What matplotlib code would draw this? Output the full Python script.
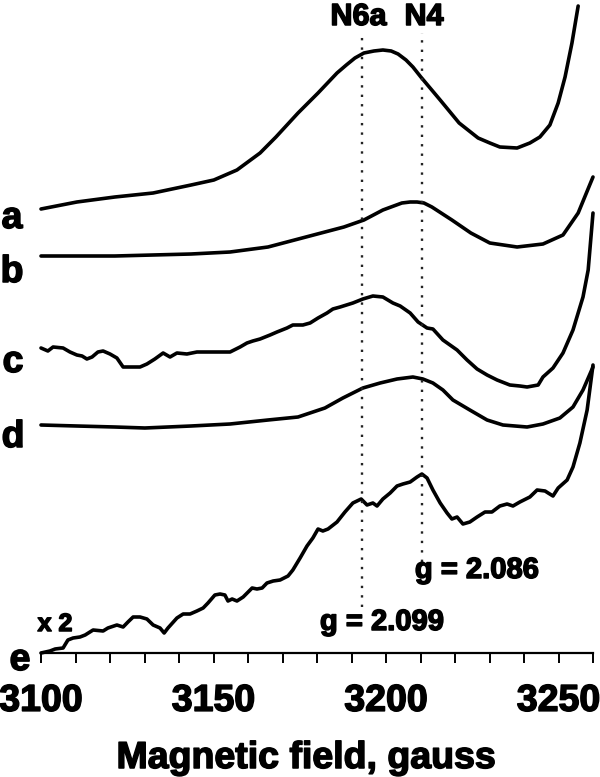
import matplotlib
matplotlib.use("Agg")
import matplotlib.pyplot as plt
import matplotlib.patheffects as pe
from matplotlib.ticker import MultipleLocator

plt.rcParams['font.family'] = ['Liberation Sans', 'DejaVu Sans']
plt.rcParams['font.weight'] = 'bold'

# Magnetic field (gauss) and stacked signal heights (arbitrary units, offset included)
field_a = [3100.0, 3110.4, 3121.4, 3132.5, 3143.5, 3150.1, 3156.8, 3163.5, 3168.1, 3174.5, 3180.3,
           3185.8, 3188.5, 3191.0, 3193.6, 3196.5, 3199.1, 3201.5, 3203.5, 3205.8, 3207.8, 3210.1,
           3215.7, 3221.2, 3226.7, 3230.1, 3233.0, 3238.0, 3241.7, 3244.6, 3247.5, 3249.9, 3251.9,
           3253.9, 3255.7]
sig_a = [444, 451, 456, 460, 468, 473, 483, 500, 516, 540, 560,
         580, 588, 595, 600, 602, 603, 602, 599, 593, 586, 576,
         553, 530, 515, 510, 506, 505, 510, 516, 528, 550, 576,
         610, 647]

field_b = [3100.0, 3121.4, 3143.5, 3154.8, 3165.8, 3176.8, 3187.8, 3193.6, 3199.1, 3204.6, 3207.0,
           3209.0, 3211.0, 3213.3, 3219.1, 3224.6, 3230.1, 3238.0, 3245.5, 3251.3, 3255.7, 3258.8,
           3260.0]
sig_b = [397, 397, 399, 401, 406, 416, 426, 433, 443, 450, 451,
         451, 450, 446, 433, 420, 410, 406, 409, 418, 440, 466,
         476]

field_c = [3100.0, 3102.0, 3103.5, 3106.4, 3108.4, 3110.4, 3111.9, 3113.3, 3114.8, 3116.5, 3118.0,
           3120.0, 3122.0, 3123.8, 3125.8, 3128.7, 3130.7, 3133.0, 3135.4, 3137.4, 3139.4, 3142.3,
           3145.2, 3148.1, 3151.9, 3154.8, 3157.7, 3159.7, 3161.4, 3163.5, 3166.4, 3168.4, 3171.3,
           3173.0, 3175.9, 3178.0, 3180.3, 3182.9, 3184.6, 3186.7, 3190.4, 3193.3, 3196.2, 3199.1,
           3202.0, 3204.1, 3207.0, 3209.3, 3211.9, 3213.6, 3216.5, 3220.6, 3223.5, 3226.4, 3229.3,
           3232.2, 3235.9, 3238.8, 3240.9, 3244.1, 3245.5, 3248.4, 3251.3, 3254.2, 3257.1, 3258.6,
           3260.0]
sig_c = [305, 302, 306, 305, 301, 298, 297, 294, 296, 301, 302,
         299, 295, 286, 286, 286, 289, 294, 300, 296, 300, 299,
         301, 301, 301, 301, 306, 310, 312, 314, 318, 321, 325,
         328, 328, 330, 335, 340, 344, 346, 350, 354, 357, 356,
         350, 347, 340, 331, 325, 324, 313, 303, 293, 284, 278,
         273, 268, 267, 266, 268, 276, 285, 300, 323, 356, 383,
         440]

field_d = [3100.0, 3110.4, 3121.4, 3130.1, 3143.5, 3154.8, 3165.8, 3174.5, 3182.3, 3187.5, 3193.3,
           3198.3, 3203.2, 3207.8, 3210.7, 3213.6, 3216.5, 3219.4, 3224.3, 3229.3, 3233.9, 3240.9,
           3245.5, 3250.4, 3254.2, 3257.1, 3260.0]
sig_d = [228, 227, 226, 225, 227, 229, 233, 236, 245, 255, 265,
         270, 274, 276, 274, 270, 263, 253, 243, 233, 228, 226,
         229, 235, 246, 263, 286]

field_e = [3100.0, 3102.6, 3104.1, 3106.4, 3107.8, 3109.3, 3111.3, 3112.8, 3115.1, 3118.0, 3119.4,
           3122.0, 3123.8, 3125.2, 3126.7, 3128.7, 3130.7, 3132.5, 3134.5, 3135.7, 3136.8, 3139.4,
           3141.2, 3143.2, 3145.2, 3147.0, 3148.4, 3150.4, 3151.9, 3153.3, 3154.2, 3155.4, 3156.8,
           3158.6, 3161.2, 3162.6, 3164.1, 3165.5, 3167.3, 3169.3, 3171.6, 3173.0, 3175.1, 3177.1,
           3178.8, 3180.3, 3181.7, 3183.2, 3185.8, 3188.1, 3190.4, 3192.8, 3194.5, 3196.2, 3197.4,
           3199.1, 3201.2, 3203.2, 3204.9, 3207.0, 3209.0, 3210.4, 3211.9, 3213.6, 3215.7, 3217.7,
           3219.1, 3220.6, 3222.3, 3224.3, 3226.4, 3228.7, 3230.7, 3233.0, 3235.1, 3236.8, 3238.8,
           3241.7, 3243.8, 3246.1, 3247.0, 3248.4, 3249.9, 3252.5, 3254.2, 3256.2, 3258.3, 3260.0]
sig_e = [0, 2, 4, 5, 13, 15, 16, 18, 23, 22, 25,
         28, 26, 31, 36, 36, 34, 28, 25, 20, 25, 35,
         39, 39, 42, 45, 50, 58, 59, 58, 52, 54, 52,
         56, 65, 64, 65, 70, 72, 73, 77, 83, 95, 107,
         115, 124, 122, 124, 131, 141, 150, 154, 148, 150, 147,
         154, 160, 167, 169, 171, 176, 179, 175, 163, 150, 140,
         134, 136, 129, 131, 136, 141, 141, 147, 149, 147, 151,
         156, 163, 162, 160, 157, 165, 173, 186, 210, 243, 288]

trace_labels = ['a', 'b', 'c', 'd', 'e']
marker_fields = [3193.0, 3210.5]
marker_names = ['N6a', 'N4']
g_labels = ['g = 2.099', 'g = 2.086']
xticks_major = [3100, 3150, 3200, 3250]

W, H = 600, 777
fig = plt.figure(figsize=(6, 7.77), dpi=100)
ax = fig.add_axes([41 / W, 124 / H, 552 / W, 653 / H])
ax.set_xlim(3100, 3260)
ax.set_ylim(0, 653)

for f, s in [(field_a, sig_a), (field_b, sig_b), (field_c, sig_c), (field_d, sig_d), (field_e, sig_e)]:
    ax.plot(f, s, color='black', lw=2.6, solid_joinstyle='round', solid_capstyle='round', clip_on=False)

# dotted marker lines
ax.plot([marker_fields[0]] * 2, [46, 620], color='#222222', lw=1.7, dashes=(1.0, 3.0))
ax.plot([marker_fields[1]] * 2, [91, 620], color='#222222', lw=1.7, dashes=(1.0, 3.0))

heavy = [pe.withStroke(linewidth=1.1, foreground='black')]

ax.text(3192.0, 636, marker_names[0], ha='center', va='center', fontsize=22, fontweight='bold', path_effects=heavy)
ax.text(3211.0, 636, marker_names[1], ha='center', va='center', fontsize=22, fontweight='bold', path_effects=heavy)

# spines / ticks
for sp in ['top', 'right', 'left']:
    ax.spines[sp].set_visible(False)
ax.spines['bottom'].set_linewidth(1.6)
ax.set_yticks([])
ax.set_xticks(xticks_major)
ax.set_xticklabels([str(t) for t in xticks_major])
ax.xaxis.set_minor_locator(MultipleLocator(10))
ax.tick_params(axis='x', which='both', direction='out', length=7.5, width=1.4, color='black')
ax.tick_params(axis='x', which='major', labelsize=27, pad=14)
for lab in ax.get_xticklabels():
    lab.set_fontweight('bold')
    lab.set_path_effects(heavy)

def ptext(x, y, s, **kw):
    fig.text(x / W, 1 - y / H, s, path_effects=heavy, **kw)

# trace labels
label_pos = [(12, 218), (12, 272), (13, 362), (13, 437), (20, 660)]
for (x, y), t in zip(label_pos, trace_labels):
    ptext(x, y, t, ha='center', va='center', fontsize=27, fontweight='bold')

ptext(55, 631, 'x 2', ha='center', va='baseline', fontsize=18, fontweight='bold')
ptext(382, 630, g_labels[0], ha='center', va='baseline', fontsize=21, fontweight='bold')
ptext(477, 578, g_labels[1], ha='center', va='baseline', fontsize=21, fontweight='bold')

ptext(306, 768, 'Magnetic field, gauss', ha='center', va='baseline', fontsize=27, fontweight='bold')

fig.savefig('out.png', dpi=100)
